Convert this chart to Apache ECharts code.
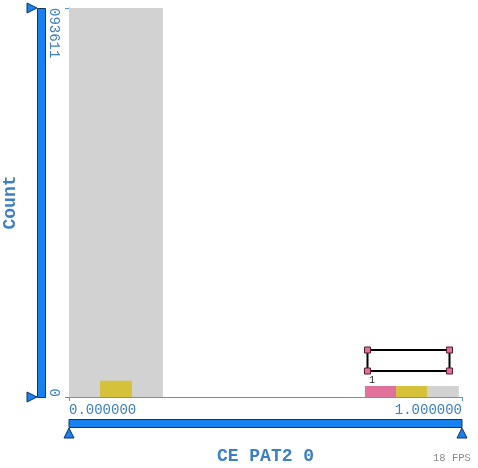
<!DOCTYPE html>
<html>
<head>
<meta charset="utf-8">
<script src="https://cdn.jsdelivr.net/npm/echarts@6/dist/echarts.min.js"></script>
<style>
html,body{margin:0;padding:0;background:#fff;}
#chart{width:478px;height:468px;}
</style>
</head>
<body>
<div id="chart"></div>
<script>
// ---- data ----
var xTickLabels = ['0.000000', '1.000000'];
var yTickLabels = ['0', '093611'];
var yMax = 93611;
var xTitle = 'CE PAT2 0';
var yTitle = 'Count';

// histogram bins per group: [start, end, count]
var grayStarts = [0.000, 0.911];
var grayEnds   = [0.239, 0.992];
var grayCounts = [93611, 2650];

var yellowStarts = [0.079, 0.832];
var yellowEnds   = [0.160, 0.911];
var yellowCounts = [3920, 2650];

var pinkStarts = [0.753];
var pinkEnds   = [0.832];
var pinkCounts = [2650];

var selectionLabel = '1';
var fpsText = '18 FPS';

// ---- chart ----
function bins(starts, ends, counts) {
  return starts.map(function (s, i) { return [s, ends[i], counts[i]]; });
}
function renderBin(params, api) {
  var p0 = api.coord([api.value(0), api.value(2)]);
  var p1 = api.coord([api.value(1), 0]);
  return {
    type: 'rect',
    shape: { x: p0[0], y: p0[1], width: p1[0] - p0[0], height: p1[1] - p0[1] },
    style: { fill: api.visual('color') }
  };
}
var FONT = '"Liberation Mono", "DejaVu Sans Mono", monospace';
var BLUE_TXT = '#3b7fc9';
var AXIS_LINE = '#4c9ae6';
var BAR_FILL = '#1782ef';
var BAR_STROKE = '#12345e';

var chart = echarts.init(document.getElementById('chart'), null, { renderer: 'canvas' });
chart.setOption({
  animation: false,
  backgroundColor: '#ffffff',
  grid: { left: 69, right: 16, top: 8, bottom: 71, containLabel: false, outerBoundsMode: 'none' },
  xAxis: {
    type: 'value', min: 0, max: 1, interval: 1,
    name: xTitle, nameLocation: 'middle', nameGap: 50,
    nameTextStyle: { fontFamily: FONT, fontWeight: 'bold', fontSize: 18, color: BLUE_TXT },
    axisLine: { show: true, lineStyle: { color: AXIS_LINE, width: 1 } },
    axisTick: { show: true, length: 4, lineStyle: { color: AXIS_LINE } },
    splitLine: { show: false },
    axisLabel: {
      fontFamily: FONT, fontSize: 14, color: BLUE_TXT, margin: 6,
      alignMinLabel: 'left', alignMaxLabel: 'right',
      formatter: function (v) { return v === 0 ? xTickLabels[0] : xTickLabels[1]; }
    }
  },
  yAxis: {
    type: 'value', min: 0, max: yMax, interval: yMax,
    name: yTitle, nameLocation: 'middle', nameGap: 50,
    nameTextStyle: { fontFamily: FONT, fontWeight: 'bold', fontSize: 18, color: BLUE_TXT },
    axisLine: { show: true, lineStyle: { color: AXIS_LINE, width: 1 } },
    axisTick: { show: true, length: 4, lineStyle: { color: AXIS_LINE } },
    splitLine: { show: false },
    axisLabel: {
      fontFamily: FONT, fontSize: 14, color: BLUE_TXT, margin: 8, rotate: -90,
      alignMinLabel: 'right', alignMaxLabel: 'left',
      formatter: function (v) { return v === 0 ? yTickLabels[0] : yTickLabels[1]; }
    }
  },
  series: [
    { type: 'custom', name: 'gray', renderItem: renderBin, itemStyle: { color: '#d2d2d2' },
      encode: { x: [0, 1], y: 2 }, data: bins(grayStarts, grayEnds, grayCounts) },
    { type: 'custom', name: 'yellow', renderItem: renderBin, itemStyle: { color: '#d5c23a' },
      encode: { x: [0, 1], y: 2 }, data: bins(yellowStarts, yellowEnds, yellowCounts) },
    { type: 'custom', name: 'pink', renderItem: renderBin, itemStyle: { color: '#e0719a' },
      encode: { x: [0, 1], y: 2 }, data: bins(pinkStarts, pinkEnds, pinkCounts) }
  ],
  graphic: [
    // vertical range bar
    { type: 'rect', shape: { x: 37.5, y: 8.5, width: 8, height: 389 },
      style: { fill: BAR_FILL, stroke: BAR_STROKE, lineWidth: 1 } },
    { type: 'polygon', shape: { points: [[27, 3], [37, 8], [27, 13]] },
      style: { fill: BAR_FILL, stroke: BAR_STROKE, lineWidth: 1 } },
    { type: 'polygon', shape: { points: [[27, 392], [37, 397], [27, 402]] },
      style: { fill: BAR_FILL, stroke: BAR_STROKE, lineWidth: 1 } },
    // horizontal range bar
    { type: 'rect', shape: { x: 69, y: 419.5, width: 393, height: 8 },
      style: { fill: BAR_FILL, stroke: BAR_STROKE, lineWidth: 1 } },
    { type: 'polygon', shape: { points: [[64, 438], [69, 428], [74, 438]] },
      style: { fill: BAR_FILL, stroke: BAR_STROKE, lineWidth: 1 } },
    { type: 'polygon', shape: { points: [[457, 438], [462, 428], [467, 438]] },
      style: { fill: BAR_FILL, stroke: BAR_STROKE, lineWidth: 1 } },
    // selection box
    { type: 'rect', shape: { x: 367.5, y: 350, width: 82, height: 21 },
      style: { fill: 'none', stroke: '#000000', lineWidth: 2 } },
    { type: 'rect', shape: { x: 364.5, y: 347, width: 6, height: 6 }, style: { fill: '#e0719a', stroke: '#5a1a30', lineWidth: 1 } },
    { type: 'rect', shape: { x: 446.5, y: 347, width: 6, height: 6 }, style: { fill: '#e0719a', stroke: '#5a1a30', lineWidth: 1 } },
    { type: 'rect', shape: { x: 364.5, y: 368, width: 6, height: 6 }, style: { fill: '#e0719a', stroke: '#5a1a30', lineWidth: 1 } },
    { type: 'rect', shape: { x: 446.5, y: 368, width: 6, height: 6 }, style: { fill: '#e0719a', stroke: '#5a1a30', lineWidth: 1 } },
    { type: 'text', x: 369, y: 375,
      style: { text: selectionLabel, fontFamily: FONT, fontSize: 10, fill: '#222222' } },
    { type: 'text', x: 433, y: 453,
      style: { text: fpsText, fontFamily: FONT, fontSize: 10.5, fill: '#8a8a8a' } }
  ]
});
</script>
</body>
</html>
